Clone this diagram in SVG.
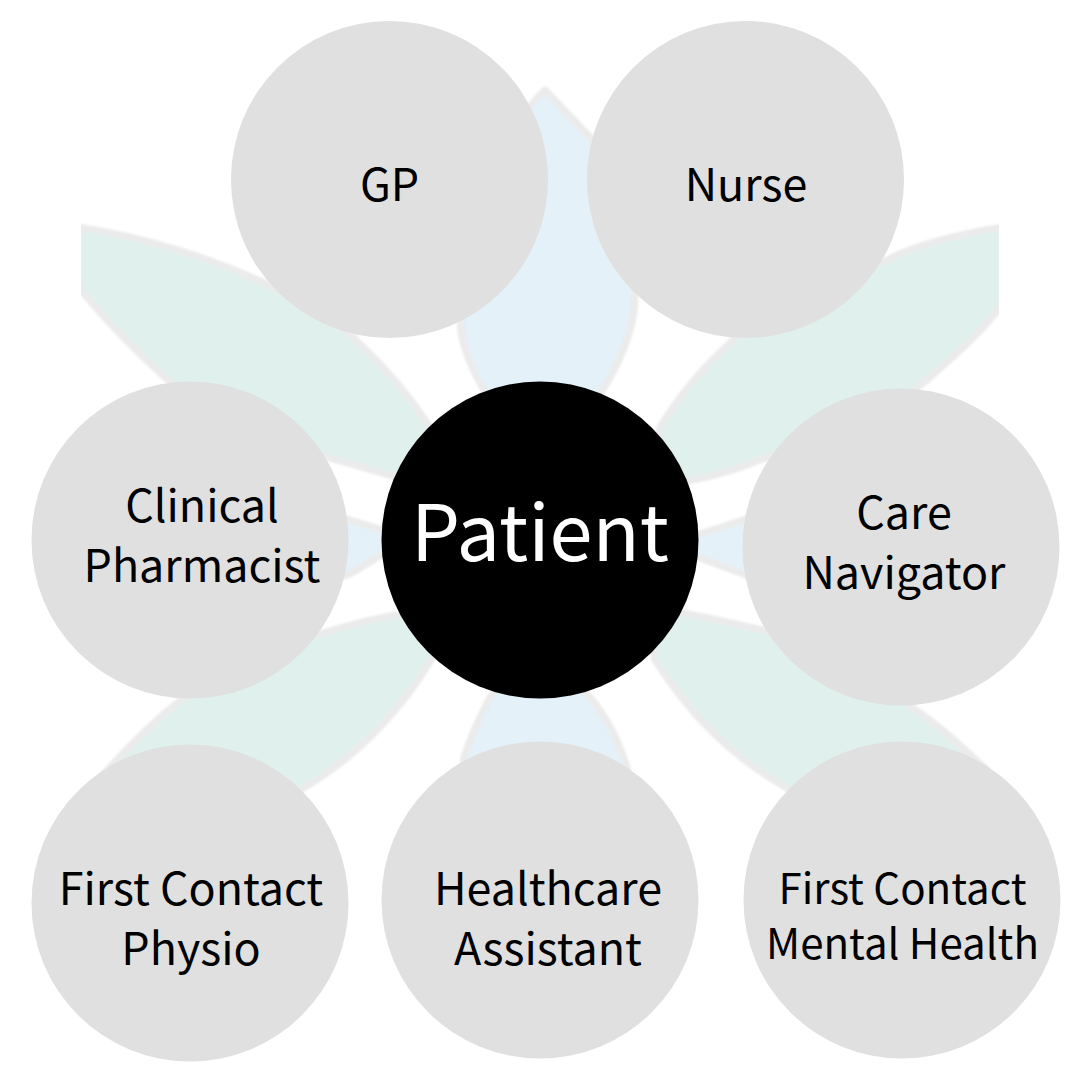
<svg xmlns="http://www.w3.org/2000/svg" width="1080" height="1080" viewBox="0 0 1080 1080">
<style>
.petal{stroke:#ebebeb;stroke-width:7;stroke-linejoin:round}
.blue{fill:#e4f1f8}
.green{fill:#e0f0ed}
.node{fill:#e0e0e0}
text{font-family:"Noto Sans CJK SC","Noto Sans",sans-serif;font-size:44.8px;fill:#000;text-anchor:middle}
.small{font-size:42px}
</style>
<defs>
<clipPath id="clip"><rect x="81" y="0" width="918" height="1080"/></clipPath>
<filter id="soft" x="-5%" y="-5%" width="110%" height="110%"><feGaussianBlur stdDeviation="1.2"/></filter>
</defs>
<rect width="1080" height="1080" fill="#fff"/>
<g id="background" clip-path="url(#clip)"><g filter="url(#soft)">
<path class="petal blue" d="M545 90L590 137C615 180 640 250 634 312C630 340 618 365 603 390L548 480L484 390C472 370 464 350 461 332C455 250 500 130 545 90Z"/>
<path class="petal blue" d="M540 640L490 697C478 720 470 738 464 757L455 850L640 850L627 767C617 735 605 715 590 697Z"/>
<path class="petal blue" d="M300 505L350 520L410 538L350 574L300 590Z"/>
<path class="petal blue" d="M790 505L743 520L665 545L743 574L790 590Z"/>
<path class="petal green" d="M70 226C140 235 210 258 260 281C310 304 340 322 360 344C390 372 412 400 428 424L445 490L393 476L333 459C270 440 210 420 160 373C130 345 105 320 70 277Z"/>
<path class="petal green" d="M1010 226C950 235 910 248 887 260C820 280 770 300 730 343C700 370 680 395 660 427L645 490L693 480C720 475 740 468 760 460C830 440 880 420 927 380C955 355 980 335 1010 295Z"/>
<path class="petal green" d="M80 800L103 775C125 750 150 725 177 703C220 670 270 650 323 633C350 625 375 618 397 615L445 610L433 657C405 705 360 755 305 787C270 810 230 825 200 840Z"/>
<path class="petal green" d="M640 608L683 613C710 618 740 625 763 630C820 650 870 675 920 713C945 730 965 750 985 768L1000 800L880 850L785 787C730 755 690 715 655 660Z"/>
</g></g>
<g id="connectors"/>
<g id="node-gp"><circle class="node" cx="389.500" cy="179.500" r="158.500"/><text x="389.500" y="201">GP</text></g>
<g id="node-nurse"><circle class="node" cx="745.500" cy="179.500" r="158.500"/><text x="746" y="201">Nurse</text></g>
<g id="node-pharmacist"><circle class="node" cx="190" cy="540" r="158.500"/><text x="202" y="522">Clinical</text><text x="202" y="582">Pharmacist</text></g>
<g id="node-patient"><circle cx="540" cy="540" r="158.500" fill="#000"/><text x="540" y="561" style="font-size:77.5px;fill:#fff">Patient</text></g>
<g id="node-navigator"><circle class="node" cx="901" cy="547" r="158.500"/><text x="904" y="529">Care</text><text x="904" y="589">Navigator</text></g>
<g id="node-physio"><circle class="node" cx="190" cy="903" r="158.500"/><text x="191" y="905">First Contact</text><text x="191" y="965">Physio</text></g>
<g id="node-assistant"><circle class="node" cx="540" cy="900" r="158.500"/><text x="548" y="905">Healthcare</text><text x="548" y="965">Assistant</text></g>
<g id="node-mental"><circle class="node" cx="902" cy="900" r="158.500"/><text class="small" x="902.500" y="904">First Contact</text><text class="small" x="902.500" y="959">Mental Health</text></g>
</svg>
